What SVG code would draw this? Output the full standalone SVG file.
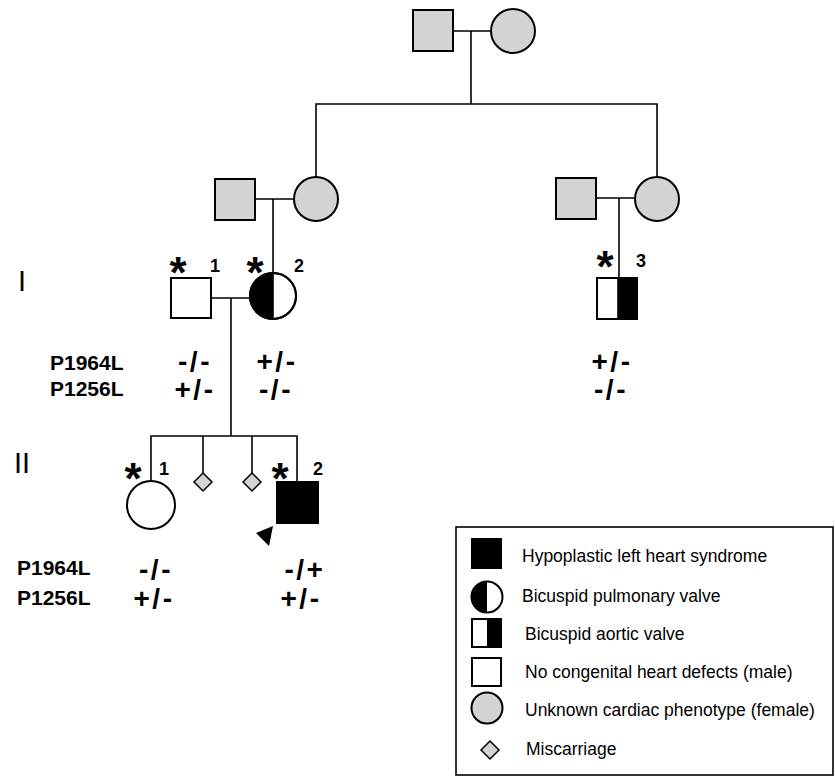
<svg xmlns="http://www.w3.org/2000/svg" width="835" height="778" viewBox="0 0 835 778">
<style>
.sh{stroke:#000;stroke-width:2;}
.g{fill:#d1d3d4;}
.w{fill:#fff;}
.b{fill:#000;}
.ln{stroke:#000;stroke-width:1.6;fill:none;}
.ast{font-family:"Liberation Sans",Arial,sans-serif;font-weight:bold;font-size:44px;text-anchor:middle;}
.num{font-family:"Liberation Sans",Arial,sans-serif;font-weight:bold;font-size:18px;text-anchor:middle;}
.lab{font-family:"Liberation Sans",Arial,sans-serif;font-weight:bold;font-size:21px;}
.gt{font-family:"Liberation Sans",Arial,sans-serif;font-weight:bold;font-size:28px;text-anchor:middle;letter-spacing:2.5px;}
.gen{font-family:"Liberation Sans",Arial,sans-serif;font-size:29px;text-anchor:middle;}
.leg{font-family:"Liberation Sans",Arial,sans-serif;font-size:17.5px;}
</style>
<rect width="835" height="778" fill="#fff"/>
<g id="connectors">
<line class="ln" x1="453" y1="31" x2="491" y2="31"/>
<line class="ln" x1="471" y1="31" x2="471" y2="104"/>
<polyline class="ln" points="316,177 316,104 657,104 657,177"/>
<line class="ln" x1="255" y1="199" x2="294" y2="199"/>
<line class="ln" x1="273" y1="199" x2="273" y2="273"/>
<line class="ln" x1="596" y1="198" x2="635" y2="198"/>
<line class="ln" x1="619" y1="198" x2="619" y2="278"/>
<line class="ln" x1="211" y1="298" x2="250" y2="298"/>
<line class="ln" x1="231" y1="298" x2="231" y2="436"/>
<polyline class="ln" points="151,481 151,436 297,436 297,482"/>
<line class="ln" x1="203" y1="436" x2="203" y2="473"/>
<line class="ln" x1="252" y1="436" x2="252" y2="473"/>
</g>
<g id="gp-male"><rect class="sh g" x="413" y="10" width="40" height="41"/></g>
<g id="gp-female"><circle class="sh g" cx="513" cy="31" r="22"/></g>
<g id="p1-male"><rect class="sh g" x="215" y="179" width="40" height="41"/></g>
<g id="p1-female"><circle class="sh g" cx="316" cy="199" r="22"/></g>
<g id="p2-male"><rect class="sh g" x="556" y="178" width="40" height="41"/></g>
<g id="p2-female"><circle class="sh g" cx="657" cy="199" r="22"/></g>
<g id="I-1">
<rect class="sh w" x="171" y="278" width="40" height="40"/>
<text class="ast" x="178" y="288">*</text>
<text class="num" x="215" y="272">1</text>
</g>
<g id="I-2">
<circle class="sh w" cx="273" cy="296" r="23"/>
<path class="b" d="M273,273 A23,23 0 0,0 273,319 Z"/>
<circle class="sh" fill="none" cx="273" cy="296" r="23"/>
<line class="ln" x1="273" y1="273" x2="273" y2="319"/>
<text class="ast" x="255" y="288">*</text>
<text class="num" x="299" y="272">2</text>
</g>
<g id="I-3">
<rect class="sh w" x="597" y="278" width="40" height="41"/>
<rect class="b" x="618" y="278" width="19" height="41"/>
<rect class="sh" fill="none" x="597" y="278" width="40" height="41"/>
<line class="ln" x1="618" y1="278" x2="618" y2="319"/>
<text class="ast" x="605" y="282">*</text>
<text class="num" x="641" y="267">3</text>
</g>
<g id="II-1">
<circle class="sh w" cx="151" cy="505" r="24"/>
<text class="ast" x="133" y="494">*</text>
<text class="num" x="164" y="475">1</text>
</g>
<g id="mc1"><polygon class="sh g" points="203,473 212,482 203,491 194,482" style="stroke-width:1.5"/></g>
<g id="mc2"><polygon class="sh g" points="252,473 261,482 252,491 243,482" style="stroke-width:1.5"/></g>
<g id="II-2">
<rect class="sh b" x="277" y="482" width="41" height="41"/>
<polygon class="b" points="256,533 273,526 269,546"/>
<text class="ast" x="280" y="494">*</text>
<text class="num" x="318" y="475">2</text>
</g>
<g id="labels">
<text class="gen" x="22" y="291">I</text>
<text class="gen" x="22" y="473">II</text>
<text class="lab" x="50" y="370">P1964L</text>
<text class="lab" x="50" y="396">P1256L</text>
<text class="gt" x="195" y="371">-/-</text>
<text class="gt" x="195" y="399">+/-</text>
<text class="gt" x="277" y="371">+/-</text>
<text class="gt" x="276" y="399">-/-</text>
<text class="gt" x="612" y="371">+/-</text>
<text class="gt" x="611" y="399">-/-</text>
<text class="lab" x="17" y="575">P1964L</text>
<text class="lab" x="17" y="605">P1256L</text>
<text class="gt" x="156" y="579">-/-</text>
<text class="gt" x="154" y="608">+/-</text>
<text class="gt" x="305" y="579">-/+</text>
<text class="gt" x="301" y="608">+/-</text>
</g>
<g id="legend">
<rect x="456" y="527" width="377" height="248" fill="#fff" stroke="#000" stroke-width="1.6"/>
<rect class="sh b" x="472" y="539" width="29" height="29"/>
<text class="leg" x="522" y="562">Hypoplastic left heart syndrome</text>
<circle class="w" cx="487" cy="597" r="15.5"/>
<path class="b" d="M487,581.5 A15.5,15.5 0 0,0 487,612.5 Z"/>
<circle class="sh" fill="none" cx="487" cy="597" r="15.5"/>
<text class="leg" x="522" y="602">Bicuspid pulmonary valve</text>
<rect class="w" x="472" y="619" width="29" height="28"/>
<rect class="b" x="487" y="619" width="14" height="28"/>
<rect class="sh" fill="none" x="472" y="619" width="29" height="28"/>
<text class="leg" x="525" y="640">Bicuspid aortic valve</text>
<rect class="sh w" x="472" y="658" width="29" height="28"/>
<text class="leg" x="525" y="678">No congenital heart defects (male)</text>
<circle class="sh g" cx="487" cy="708" r="15.5"/>
<text class="leg" x="525" y="716">Unknown cardiac phenotype (female)</text>
<polygon class="sh g" points="490,741 499,750 490,759 481,750" style="stroke-width:1.5"/>
<text class="leg" x="526" y="755">Miscarriage</text>
</g>
</svg>
